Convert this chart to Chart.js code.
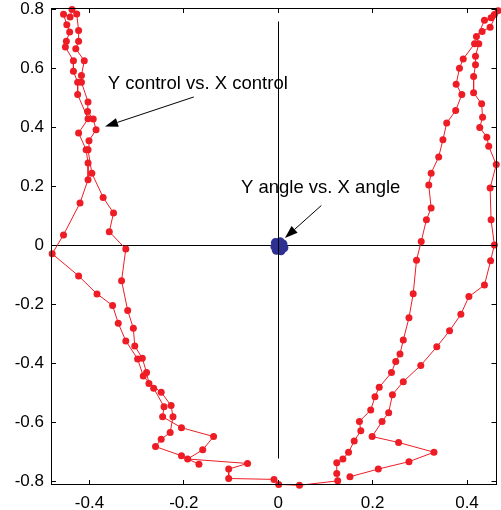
<!DOCTYPE html>
<html>
<head>
<meta charset="utf-8">
<script src="https://cdn.jsdelivr.net/npm/chart.js@4/dist/chart.umd.min.js"></script>
<style>
  html, body { margin: 0; padding: 0; background: #fff; overflow: hidden; }
</style>
</head>
<body>
<canvas id="chart" width="501" height="510"></canvas>
<script>
// --- data ---
const controlX = [
  -0.168, -0.205, -0.260, -0.248, -0.229, -0.223, -0.227, -0.248, -0.274, -0.279,
  -0.288, -0.304, -0.307, -0.319, -0.332, -0.323,
  -0.358, -0.349, -0.371, -0.395, -0.403, -0.401, -0.386, -0.392, -0.404, -0.403,
  -0.417, -0.417, -0.411, -0.429, -0.423, -0.423, -0.427, -0.437, -0.441, -0.455,
  -0.448, -0.442, -0.449, -0.451, -0.434, -0.434, -0.425, -0.425, -0.403, -0.423,
  -0.407, -0.403, -0.403, -0.420, -0.455, -0.479,
  -0.423, -0.384, -0.351, -0.339, -0.323, -0.298, -0.286, -0.264, -0.242, -0.245,
  -0.205, -0.137, -0.160, -0.192, -0.065, -0.105, -0.105, -0.009, 0.001, 0.045,
  0.126, 0.124, 0.124,
  0.137, 0.149, 0.161, 0.175, 0.172, 0.196, 0.205, 0.214, 0.240, 0.249,
  0.258, 0.265, 0.277, 0.286, 0.293, 0.303, 0.314, 0.324, 0.319, 0.324,
  0.340, 0.349, 0.357, 0.376, 0.389, 0.377, 0.384, 0.392, 0.416, 0.437,
  0.451, 0.458, 0.466,
  0.449, 0.432, 0.420, 0.425, 0.418, 0.418, 0.414, 0.414, 0.431, 0.433,
  0.427, 0.442, 0.446, 0.462, 0.449, 0.451, 0.458, 0.450, 0.437, 0.404,
  0.387, 0.363, 0.336, 0.302, 0.265, 0.242, 0.234, 0.220, 0.199, 0.255,
  0.330, 0.277, 0.212, 0.152
];
const controlY = [
  -0.741, -0.712, -0.681, -0.656, -0.633, -0.580, -0.542, -0.497, -0.467, -0.430,
  -0.382, -0.340, -0.280, -0.220, -0.119, -0.012,
  0.047, 0.110, 0.163, 0.245, 0.324, 0.355, 0.392, 0.428, 0.454, 0.486,
  0.553, 0.576, 0.626, 0.666, 0.692, 0.728, 0.784, 0.799, 0.774, 0.783,
  0.748, 0.723, 0.692, 0.672, 0.626, 0.590, 0.553, 0.511, 0.429, 0.381,
  0.324, 0.279, 0.223, 0.144, 0.036, -0.028,
  -0.103, -0.164, -0.203, -0.263, -0.323, -0.384, -0.442, -0.483, -0.546, -0.580,
  -0.617, -0.647, -0.692, -0.723, -0.738, -0.757, -0.789, -0.792, -0.809, -0.812,
  -0.797, -0.772, -0.736,
  -0.723, -0.700, -0.662, -0.627, -0.596, -0.557, -0.512, -0.480, -0.430, -0.393,
  -0.367, -0.320, -0.245, -0.163, -0.050, 0.014, 0.087, 0.127, 0.205, 0.245,
  0.300, 0.358, 0.415, 0.457, 0.511, 0.546, 0.600, 0.632, 0.683, 0.763,
  0.771, 0.782, 0.795,
  0.739, 0.725, 0.708, 0.683, 0.641, 0.612, 0.572, 0.517, 0.480, 0.434,
  0.400, 0.367, 0.336, 0.274, 0.195, 0.087, 0.002, -0.052, -0.134, -0.173,
  -0.233, -0.289, -0.343, -0.406, -0.461, -0.505, -0.566, -0.596, -0.647, -0.667,
  -0.700, -0.732, -0.757, -0.783
];
const angleX = [-0.006, 0.004, 0.010, 0.012, 0.006, -0.004, -0.007, 0.002];
const angleY = [0.010, 0.013, 0.005, -0.008, -0.018, -0.016, -0.004, 0.000];

const xTicks = [-0.4, -0.2, 0, 0.2, 0.4];
const yTicks = [-0.8, -0.6, -0.4, -0.2, 0, 0.2, 0.4, 0.6, 0.8];
const xRange = [-0.4815, 0.4625];
const yRange = [-0.811, 0.8043];

// Fadenkreuz: waagrechte Linie y=0, senkrechte Linie x=0
const crossHX = [-0.4815, 0.4625];
const crossHY = [0, 0];
const crossVX = [0, 0];
const crossVY = [0.757, -0.72];

const RED = "#ee1c25";
const BLUE = "#2e3192";

const toPoints = (xs, ys) => xs.map((x, i) => ({ x: x, y: ys[i] }));

// Linie über die Skalen, auf halbe Pixel gelegt damit sie 1px dünn bleibt
function crispLine(chart, xs, ys) {
  const { ctx, scales } = chart;
  const snap = (p) => Math.floor(p) + 0.5;
  ctx.save();
  ctx.strokeStyle = "#000";
  ctx.lineWidth = 1;
  ctx.beginPath();
  ctx.moveTo(snap(scales.x.getPixelForValue(xs[0])), snap(scales.y.getPixelForValue(ys[0])));
  ctx.lineTo(snap(scales.x.getPixelForValue(xs[1])), snap(scales.y.getPixelForValue(ys[1])));
  ctx.stroke();
  ctx.restore();
}

// --- rahmen, innere ticks und beschriftungen ---
const framePlugin = {
  id: "frame",
  beforeDatasetsDraw(chart) {
    crispLine(chart, crossHX, crossHY);
  },
  afterDatasetsDraw(chart) {
    crispLine(chart, crossVX, crossVY);
  },
  afterDraw(chart) {
    const { ctx, chartArea: a, scales } = chart;
    const sx = scales.x, sy = scales.y;
    ctx.save();
    ctx.strokeStyle = "#000";
    ctx.lineWidth = 1;
    ctx.strokeRect(Math.round(a.left) + 0.5, Math.round(a.top) + 0.5,
      Math.round(a.right - a.left) - 1, Math.round(a.bottom - a.top) - 1);

    const tl = 5;
    ctx.beginPath();
    xTicks.forEach((v) => {
      const px = Math.floor(sx.getPixelForValue(v)) + 0.5;
      ctx.moveTo(px, a.top); ctx.lineTo(px, a.top + tl);
      ctx.moveTo(px, a.bottom); ctx.lineTo(px, a.bottom - tl);
    });
    yTicks.forEach((v) => {
      const py = Math.floor(sy.getPixelForValue(v)) + 0.5;
      ctx.moveTo(a.left, py); ctx.lineTo(a.left + tl, py);
      ctx.moveTo(a.right, py); ctx.lineTo(a.right - tl, py);
    });
    ctx.stroke();

    // Beschriftungen mit Pfeil
    const notes = [
      { text: "Y control vs. X control", tx: -0.361, ty: 0.531,
        from: [-0.179, 0.503], to: [-0.367, 0.403] },
      { text: "Y angle vs. X angle", tx: -0.079, ty: 0.179,
        from: [0.0914, 0.1356], to: [0.0141, 0.0251] },
    ];
    ctx.fillStyle = "#000";
    ctx.font = "18.5px 'Liberation Sans', Arial, sans-serif";
    ctx.textAlign = "left";
    ctx.textBaseline = "alphabetic";
    notes.forEach((n) => {
      ctx.fillText(n.text, sx.getPixelForValue(n.tx), sy.getPixelForValue(n.ty));
      const x0 = sx.getPixelForValue(n.from[0]), y0 = sy.getPixelForValue(n.from[1]);
      const x1 = sx.getPixelForValue(n.to[0]), y1 = sy.getPixelForValue(n.to[1]);
      const ang = Math.atan2(y1 - y0, x1 - x0);
      const hl = 13, hw = 4.5;
      const bx = x1 - hl * Math.cos(ang), by = y1 - hl * Math.sin(ang);
      ctx.beginPath();
      ctx.moveTo(x0, y0); ctx.lineTo(bx, by);
      ctx.stroke();
      ctx.beginPath();
      ctx.moveTo(x1, y1);
      ctx.lineTo(bx + hw * Math.sin(ang), by - hw * Math.cos(ang));
      ctx.lineTo(bx - hw * Math.sin(ang), by + hw * Math.cos(ang));
      ctx.closePath();
      ctx.fill();
    });
    ctx.restore();
  },
};

Chart.defaults.font.family = "'Liberation Sans', Arial, sans-serif";
Chart.defaults.font.size = 17;
Chart.defaults.color = "#000";

new Chart(document.getElementById("chart"), {
  type: "scatter",
  data: {
    datasets: [
      {
        data: toPoints(controlX, controlY),
        showLine: true,
        borderColor: RED,
        borderWidth: 1,
        backgroundColor: RED,
        pointRadius: 3.5,
        pointBorderWidth: 0,
        clip: false,
      },
      {
        data: toPoints(angleX, angleY),
        showLine: true,
        borderColor: BLUE,
        borderWidth: 1,
        backgroundColor: BLUE,
        pointRadius: 4.5,
        pointBorderWidth: 0,
        clip: false,
      },
    ],
  },
  options: {
    responsive: false,
    animation: false,
    events: [],
    layout: { padding: { top: 8, right: 2, left: 0, bottom: 0 } },
    plugins: { legend: { display: false }, tooltip: { enabled: false } },
    scales: {
      x: {
        type: "linear",
        min: xRange[0],
        max: xRange[1],
        grid: { display: false, drawTicks: false },
        border: { display: false },
        ticks: { padding: 8, maxRotation: 0, callback: (v) => String(v) },
        afterBuildTicks: (s) => { s.ticks = xTicks.map((v) => ({ value: v })); },
        afterFit: (s) => { s.height = 25; s.paddingLeft = 0; s.paddingRight = 0; },
      },
      y: {
        type: "linear",
        min: yRange[0],
        max: yRange[1],
        grid: { display: false, drawTicks: false },
        border: { display: false },
        ticks: { padding: 7, callback: (v) => String(v) },
        afterBuildTicks: (s) => { s.ticks = yTicks.map((v) => ({ value: v })); },
        afterFit: (s) => { s.width = 51; s.paddingTop = 0; s.paddingBottom = 0; },
      },
    },
  },
  plugins: [framePlugin],
});
</script>
</body>
</html>
